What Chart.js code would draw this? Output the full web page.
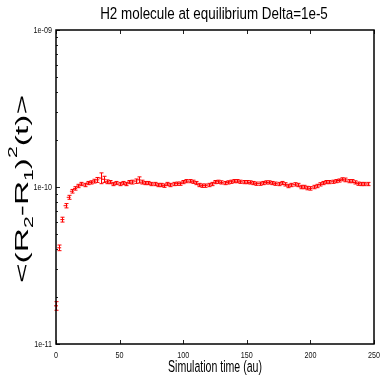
<!DOCTYPE html>
<html><head><meta charset="utf-8">
<script src="https://cdn.jsdelivr.net/npm/chart.js@4/dist/chart.umd.min.js"></script>
<style>html,body{margin:0;padding:0;background:#fff;}#wrap{width:382px;height:378px;}</style>
</head><body><div id="wrap"><canvas id="c" width="382" height="378"></canvas></div>
<script>
// ---- data (values in units of 1e-10) ----
const times = [0,2.5,5,7.5,10,12.5,15,17.5,20,22.5,25,27.5,30,32.5,35,37.5,40,42.5,45,47.5,
  50,52.5,55,57.5,60,62.5,65,67.5,70,72.5,75,77.5,80,82.5,85,87.5,90,92.5,95,97.5,
  100,102.5,105,107.5,110,112.5,115,117.5,120,122.5,125,127.5,130,132.5,135,137.5,140,142.5,145,147.5,
  150,152.5,155,157.5,160,162.5,165,167.5,170,172.5,175,177.5,180,182.5,185,187.5,190,192.5,195,197.5,
  200,202.5,205,207.5,210,212.5,215,217.5,220,222.5,225,227.5,230,232.5,235,237.5,240,242.5,245];
const meanR2 = [0.175,0.41,0.62,0.76,0.86,0.94,0.98,1.015,1.045,1.03,1.06,1.07,1.09,1.11,1.14,1.12,1.08,1.075,1.045,1.06,
  1.045,1.06,1.045,1.075,1.075,1.09,1.11,1.075,1.06,1.06,1.045,1.045,1.03,1.03,1.02,1.045,1.03,1.045,1.05,1.05,
  1.075,1.09,1.09,1.08,1.06,1.03,1.02,1.02,1.03,1.045,1.075,1.08,1.07,1.06,1.07,1.08,1.09,1.09,1.08,1.075,
  1.075,1.07,1.06,1.05,1.05,1.06,1.07,1.07,1.06,1.05,1.045,1.06,1.04,1.015,1.03,1.04,1.03,1.0,1.0,0.985,
  0.98,1.0,1.015,1.04,1.06,1.075,1.075,1.08,1.09,1.10,1.12,1.11,1.09,1.09,1.07,1.05,1.045,1.045,1.045];
const errR2 = [0.011,0.017,0.022,0.024,0.025,0.025,0.025,0.025,0.025,0.025,0.025,0.025,0.03,0.04,0.09,0.05,0.03,0.025,0.025,0.025,
  0.025,0.025,0.025,0.025,0.03,0.035,0.05,0.03,0.025,0.025,0.025,0.025,0.025,0.025,0.025,0.025,0.025,0.025,0.025,0.025,
  0.025,0.025,0.025,0.025,0.025,0.025,0.025,0.025,0.025,0.025,0.025,0.025,0.025,0.025,0.025,0.025,0.025,0.025,0.025,0.025,
  0.025,0.025,0.025,0.025,0.025,0.025,0.025,0.025,0.025,0.025,0.025,0.025,0.025,0.025,0.025,0.025,0.025,0.025,0.025,0.025,
  0.025,0.025,0.025,0.025,0.025,0.025,0.025,0.025,0.025,0.025,0.025,0.03,0.025,0.025,0.025,0.025,0.025,0.025,0.025];
const UNIT = 1e-10;
const xTickValues = [0,50,100,150,200,250];
const xTickLabels = ['0','50','100','150','200','250'];
const yTickValues = [1e-11,1e-10,1e-9];
const yTickLabels = ['1e-11','1e-10','1e-09'];
const titleText = 'H2 molecule at equilibrium Delta=1e-5';
const xTitleText = 'Simulation time (au)';
const yTitleParts = [['<(R',0],['2',1],['-R',0],['1',1],[')',0],['2',2],['(t)>',0]];

const FAM = '"Liberation Sans", Arial, Helvetica, sans-serif';
const RED = '#ff0000';

function stretchText(ctx, text, x, y, size, ky, align){
  ctx.save(); ctx.translate(x,y); ctx.scale(1,ky);
  ctx.font = size+'px '+FAM; ctx.textAlign = align; ctx.textBaseline = 'alphabetic';
  ctx.fillText(text,0,0); ctx.restore();
}
function fitText(ctx, text, cx, baseY, targetW, targetCap){
  ctx.save(); ctx.font = '100px '+FAM; const w = ctx.measureText(text).width; ctx.restore();
  const f = 100*targetW/w; const ky = targetCap/(0.716*f);
  stretchText(ctx, text, cx, baseY, f, ky, 'center');
}

const errorBars = {
  id:'errorBars',
  afterDatasetsDraw(chart){
    const ctx = chart.ctx, xs = chart.scales.x, ys = chart.scales.y;
    ctx.save(); ctx.strokeStyle = RED; ctx.lineWidth = 1;
    for(let i=0;i<times.length;i++){
      const x = Math.round(xs.getPixelForValue(times[i]))+0.5;
      const yt = ys.getPixelForValue((meanR2[i]+errR2[i])*UNIT);
      const yb = ys.getPixelForValue((meanR2[i]-errR2[i])*UNIT);
      ctx.beginPath();
      ctx.moveTo(x,yt); ctx.lineTo(x,yb);
      ctx.moveTo(x-2,yt); ctx.lineTo(x+2,yt);
      ctx.moveTo(x-2,yb); ctx.lineTo(x+2,yb);
      ctx.stroke();
    }
    ctx.restore();
  }
};

const frame = {
  id:'frame',
  afterDraw(chart){
    const ctx = chart.ctx, a = chart.chartArea, xs = chart.scales.x, ys = chart.scales.y;
    ctx.save();
    // ticks (inward)
    ctx.strokeStyle = '#222'; ctx.lineWidth = 1;
    ctx.beginPath();
    xTickValues.forEach(v=>{
      const x = Math.round(xs.getPixelForValue(v))+0.5;
      ctx.moveTo(x,a.bottom); ctx.lineTo(x,a.bottom-4);
      ctx.moveTo(x,a.top); ctx.lineTo(x,a.top+4);
    });
    yTickValues.forEach((v,k)=>{
      const y = Math.round(ys.getPixelForValue(v))+0.5;
      ctx.moveTo(a.left,y); ctx.lineTo(a.left+4,y);
      if(k<yTickValues.length-1){
        for(let m=2;m<=9;m++){
          const ym = Math.round(ys.getPixelForValue(v*m))+0.5;
          ctx.moveTo(a.left,ym); ctx.lineTo(a.left+2,ym);
        }
      }
    });
    ctx.stroke();
    // border
    ctx.strokeStyle = '#000'; ctx.lineWidth = 1.5;
    ctx.strokeRect(a.left, a.top, a.right-a.left, a.bottom-a.top);
    // tick labels
    ctx.fillStyle = '#111';
    xTickValues.forEach((v,k)=>{
      stretchText(ctx, xTickLabels[k], xs.getPixelForValue(v), a.bottom+13.5, 7.2, 1.35, 'center');
    });
    yTickValues.forEach((v,k)=>{
      stretchText(ctx, yTickLabels[k], a.left-4, ys.getPixelForValue(v)+3.3, 7.2, 1.35, 'right');
    });
    // titles
    ctx.fillStyle = '#000';
    const cx = (a.left+a.right)/2;
    fitText(ctx, titleText, cx-1, 18.5, 228, 12.3);
    fitText(ctx, xTitleText, cx, 371.5, 94, 11.5);
    // y title with sub/superscripts, rotated
    const f = 19, fs = 12;
    ctx.save();
    const parts = yTitleParts.map(p=>{
      ctx.font = (p[1]?fs:f)+'px '+FAM;
      return {t:p[0], k:p[1], w:ctx.measureText(p[0]).width};
    });
    const W = parts.reduce((s,p)=>s+p.w,0);
    const ky = 188/W;
    ctx.translate(28, 189);
    ctx.scale(1, ky);
    ctx.rotate(-Math.PI/2);
    ctx.textAlign = 'left'; ctx.textBaseline = 'alphabetic';
    let xx = -W/2;
    parts.forEach(p=>{
      ctx.font = (p.k?fs:f)+'px '+FAM;
      const dy = p.k===1 ? 5 : (p.k===2 ? -11 : 0);
      ctx.fillText(p.t, xx, dy);
      xx += p.w;
    });
    ctx.restore();
    ctx.restore();
  }
};

new Chart(document.getElementById('c'), {
  type:'scatter',
  data:{datasets:[{
    data: times.map((t,i)=>({x:t, y:meanR2[i]*UNIT})),
    showLine:false,
    pointStyle:'line',
    pointRadius:2,
    pointBorderWidth:1,
    pointBorderColor:RED,
    pointBackgroundColor:RED,
    clip:false
  }]},
  options:{
    responsive:false, animation:false, devicePixelRatio:1,
    layout:{padding:{left:56,right:8,top:30,bottom:34}},
    plugins:{legend:{display:false}, tooltip:{enabled:false}, title:{display:false}},
    scales:{
      x:{type:'linear', min:0, max:250, display:false},
      y:{type:'logarithmic', min:1e-11, max:1e-9, display:false}
    }
  },
  plugins:[errorBars, frame]
});
</script></body></html>
